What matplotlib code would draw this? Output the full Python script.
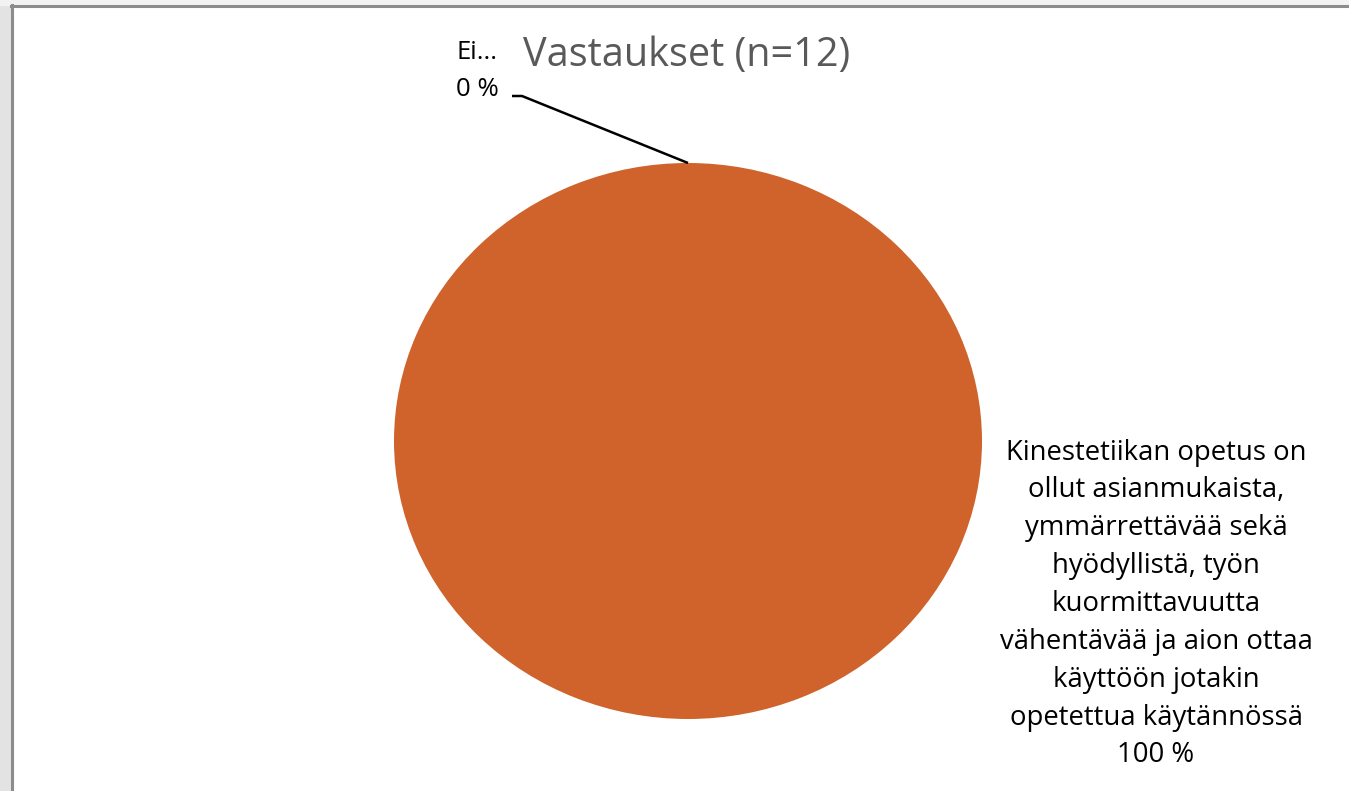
import matplotlib
matplotlib.use("Agg")
import matplotlib.pyplot as plt
from matplotlib.patches import Rectangle
from matplotlib.lines import Line2D
import numpy as np

# ---- data ----
categories = [
    "Ei...",
    "Kinestetiikan opetus on\nollut asianmukaista,\nymmärrettävää sekä\nhyödyllistä, työn\nkuormittavuutta\nvähentävää ja aion ottaa\nkäyttöön jotakin\nopetettua käytännössä",
]
values = [0, 12]
percent_labels = ["0 %", "100 %"]
title = "Vastaukset (n=12)"
colors = ["#4472C4", "#CF632B"]

W, H = 1349, 791
fig = plt.figure(figsize=(W / 100, H / 100), dpi=100)
fig.patch.set_facecolor("white")

# frame (screenshot surround)
fig.patches.append(Rectangle((0, 0), 11 / W, 1, transform=fig.transFigure, color="#E3E3E3", zorder=0))
fig.patches.append(Rectangle((0, 1 - 5 / H), 1, 5 / H, transform=fig.transFigure, color="#F2F2F2", zorder=0))
fig.lines.append(Line2D([12 / W, 12 / W], [0, 1 - 5 / H], transform=fig.transFigure, color="#8C8C8C", lw=2.2))
fig.lines.append(Line2D([11 / W, 1], [1 - 6 / H, 1 - 6 / H], transform=fig.transFigure, color="#8C8C8C", lw=2.2))

FONT = ["Open Sans", "DejaVu Sans"]

# pie axes: ellipse bounding box
x0, x1, y0, y1 = 394, 982, 163, 719
ax = fig.add_axes([x0 / W, 1 - y1 / H, (x1 - x0) / W, (y1 - y0) / H])
wedges, _ = ax.pie(values, colors=colors, startangle=90, counterclock=False,
                   radius=1, wedgeprops=dict(linewidth=0))
ax.set_xlim(-1, 1)
ax.set_ylim(-1, 1)
ax.set_aspect("auto")
ax.axis("off")

fig.text(687 / W, 1 - 56 / H, title, ha="center", va="center",
         fontsize=28.5, color="#595959", family=FONT)

# small slice label with leader line
fig.text(477 / W, 1 - 71 / H, categories[0] + "\n" + percent_labels[0], ha="center", va="center",
         fontsize=18.5, color="black", family=FONT, linespacing=1.65)
th = np.deg2rad(wedges[0].theta1)
px, py = np.cos(th), np.sin(th)
rx, ry = (x1 - x0) / 2, (y1 - y0) / 2
cx, cy = (x0 + x1) / 2, (y0 + y1) / 2
ex = (512 - cx) / rx
bx = (522 - cx) / rx
ey = (cy - 96) / ry
ax.plot([ex, bx, px], [ey, ey, py], color="black", lw=1.8, clip_on=False,
        solid_capstyle="butt")

# big slice label
fig.text(1156 / W, 1 - 604 / H, categories[1] + "\n" + percent_labels[1], ha="center", va="center",
         fontsize=19.8, color="black", family=FONT, linespacing=1.47)

fig.savefig("out.png", dpi=100)
